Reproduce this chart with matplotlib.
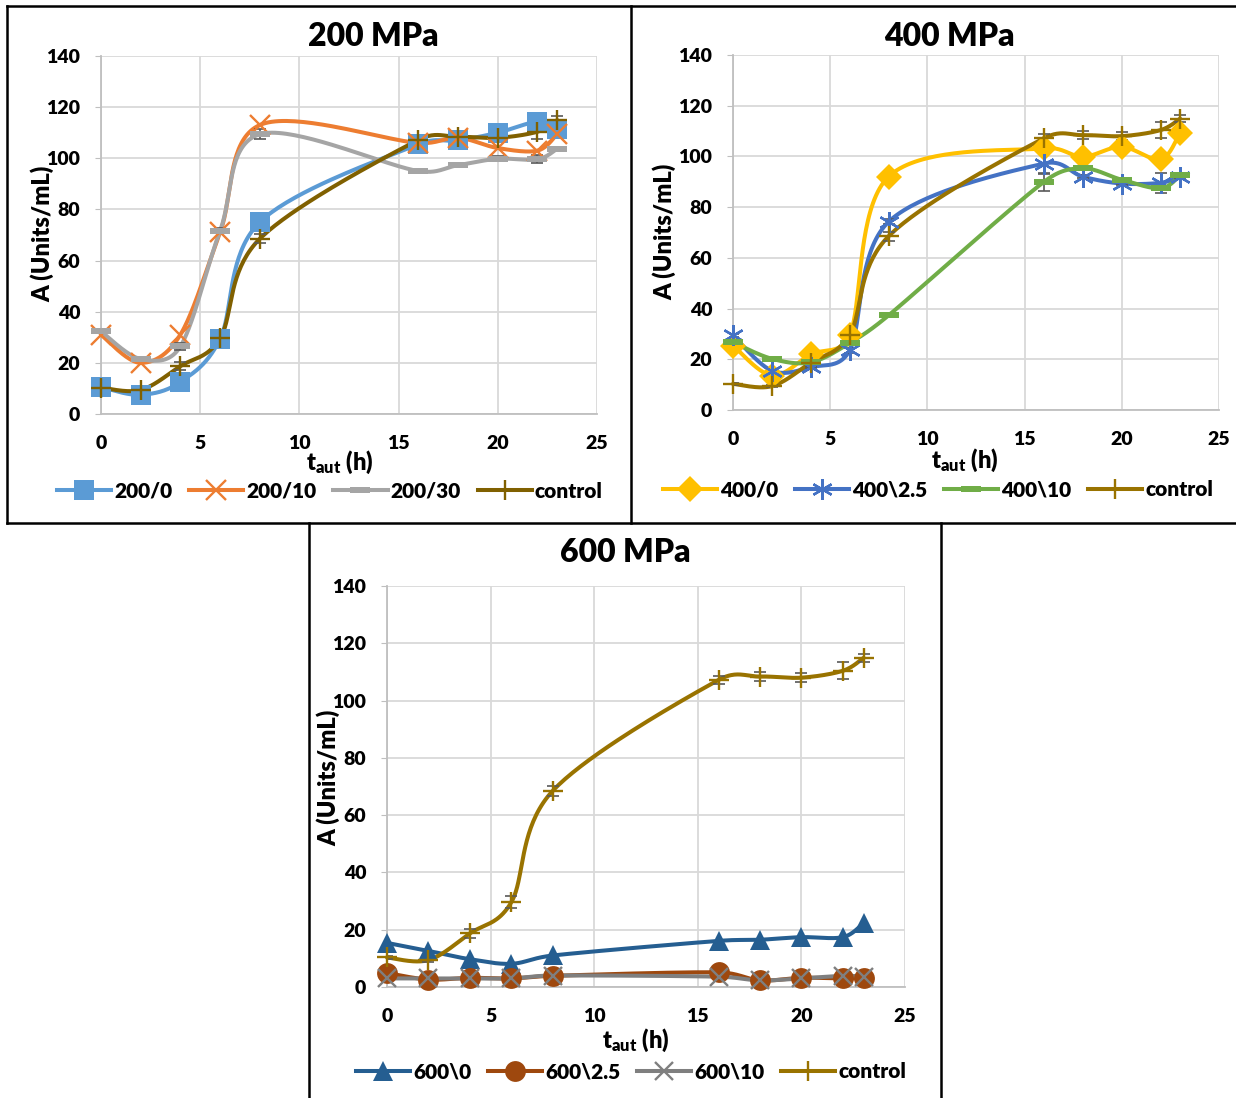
import numpy as np
import matplotlib
matplotlib.use("Agg")
import matplotlib.pyplot as plt
from matplotlib.lines import Line2D
from matplotlib.path import Path

plt.rcParams.update({
    "font.family": "Lato",
    "font.weight": "heavy",
    "mathtext.fontset": "custom",
    "mathtext.rm": "Lato:heavy",
    "mathtext.it": "Lato:heavy",
    "mathtext.bf": "Lato:heavy",
})

# sampling times (h)
hours = [0, 2, 4, 6, 8, 16, 18, 20, 22, 23]

# untreated control, shared by all three panels
control = [10.3, 9.4, 18.7, 29.6, 68.5, 107.2, 108.4, 108.0, 110.4, 114.9]
control_err = [0.5, 0.5, 1.5, 2.0, 1.8, 1.5, 1.5, 1.5, 3.0, 1.5]

# 200 MPa
p200_0 = [10.5, 7.5, 12.5, 29.3, 75.0, 105.5, 107.0, 110.0, 114.3, 111.5]
p200_10 = [31.0, 20.0, 31.0, 71.0, 113.0, 106.0, 108.0, 104.0, 103.0, 109.5]
p200_30 = [32.3, 21.5, 26.4, 71.6, 109.4, 95.0, 97.3, 99.8, 99.6, 103.8]
p200_30_err = [0.5, 0.5, 1.5, 1.0, 2.0, 0.5, 0.5, 1.0, 1.5, 0.5]

# 400 MPa
p400_0 = [25.4, 13.6, 21.9, 29.4, 92.0, 103.2, 99.9, 103.8, 98.8, 109.4]
p400_25 = [29.4, 15.5, 16.9, 23.5, 74.2, 97.2, 92.0, 89.3, 89.6, 92.0]
p400_25_err = [0.5, 0.5, 0.5, 1.0, 1.0, 4.0, 0.5, 0.5, 4.0, 0.5]
p400_10 = [26.7, 20.2, 18.8, 26.4, 37.3, 90.0, 95.3, 90.8, 87.4, 92.6]
p400_10_err = [0.5, 0.5, 0.5, 0.5, 0.5, 3.5, 0.5, 0.5, 0.5, 0.5]

# 600 MPa
p600_0 = [15.4, 12.6, 9.7, 8.1, 11.0, 16.1, 16.5, 17.4, 17.4, 22.3]
p600_25 = [4.9, 2.6, 3.2, 3.0, 3.9, 5.1, 2.3, 3.2, 3.0, 3.0]
p600_10 = [3.0, 3.0, 3.0, 3.0, 4.0, 3.6, 2.3, 3.0, 3.9, 3.6]

W, H = 1236, 1098
ERR_COLOR = "#595959"

# flat bar marker (spreadsheet "dash")
DASH = Path([(-1, -0.3), (1, -0.3), (1, 0.3), (-1, 0.3), (-1, -0.3)],
            [Path.MOVETO, Path.LINETO, Path.LINETO, Path.LINETO, Path.CLOSEPOLY])
ASTERISK = (6, 2, 0)


def fx(px):
    return px / W


def fy(py):
    return 1 - py / H


def smooth(x, y, n=40, scale=(20.0, 2.6)):
    # Catmull-Rom style Bezier segments; the handle length is capped at half
    # the segment (measured on screen) so short segments next to long ones
    # don't loop or overshoot
    pts = np.column_stack([x, y]).astype(float)
    p = np.vstack([pts[0], pts, pts[-1]])
    sc = np.array(scale)
    t = np.linspace(0, 1, n)[:, None]
    out = []
    for i in range(1, len(p) - 2):
        p0, p1, p2, p3 = p[i - 1], p[i], p[i + 1], p[i + 2]
        d12 = np.hypot(*((p2 - p1) * sc))
        d02 = np.hypot(*((p2 - p0) * sc))
        d13 = np.hypot(*((p3 - p1) * sc))
        f1 = 1 / 6 if d02 / 6 <= d12 / 2 or d02 == 0 else d12 / 2 / d02
        f2 = 1 / 6 if d13 / 6 <= d12 / 2 or d13 == 0 else d12 / 2 / d13
        c1 = p1 + (p2 - p0) * f1
        c2 = p2 - (p3 - p1) * f2
        seg = ((1 - t) ** 3) * p1 + 3 * ((1 - t) ** 2) * t * c1 \
            + 3 * (1 - t) * t ** 2 * c2 + t ** 3 * p2
        out.append(seg if i == 1 else seg[1:])
    return np.vstack(out)


def marker_style(marker, color, ms):
    if marker in ("x", "+", ASTERISK):
        return dict(marker=marker, ms=ms, mec=color, mfc=color, mew=1.7)
    return dict(marker=marker, ms=ms, mec=color, mfc=color, mew=0)


def draw_series(ax, y, color, marker, ms, err=None):
    curve = smooth(hours, y)
    ax.plot(curve[:, 0], curve[:, 1], color=color, lw=2.9, zorder=3,
            solid_capstyle="round", clip_on=False)
    if err is not None:
        ax.errorbar(hours, y, yerr=err, fmt="none", ecolor=ERR_COLOR,
                    elinewidth=1.2, capsize=4, capthick=1.2, zorder=4)
    ax.plot(hours, y, ls="none", zorder=5, clip_on=False,
            **marker_style(marker, color, ms))
    return Line2D([], [], color=color, lw=2.9, **marker_style(marker, color, ms))


def setup_axes(rect):
    ax = fig.add_axes(rect)
    ax.set_xlim(0, 25)
    ax.set_ylim(0, 140)
    ax.set_xticks(range(0, 26, 5))
    ax.set_yticks(range(0, 141, 20))
    ax.grid(True, color="#D9D9D9", lw=1.3)
    ax.set_axisbelow(True)
    for side in ("top", "right"):
        ax.spines[side].set_visible(False)
    for side in ("left", "bottom"):
        ax.spines[side].set_color("#BFBFBF")
        ax.spines[side].set_linewidth(1.3)
    ax.tick_params(axis="y", length=4, color="#BFBFBF", pad=11, labelsize=14)
    ax.tick_params(axis="x", length=0, pad=15, labelsize=14)
    return ax


def panel(rect, title, title_xy, ylab_xy, xlab_xy, leg_xy, series):
    ax = setup_axes(rect)
    handles, labels = [], []
    for label, y, color, marker, ms, err in series:
        handles.append(draw_series(ax, y, color, marker, ms, err))
        labels.append(label)
    fig.text(fx(title_xy[0]), fy(title_xy[1]), title, fontsize=23,
             ha="center", va="center")
    fig.text(fx(ylab_xy[0]), fy(ylab_xy[1]), "A (Units/mL)", fontsize=17,
             rotation=90, ha="center", va="center")
    fig.text(fx(xlab_xy[0]), fy(xlab_xy[1]), r"$\mathrm{t}_{\mathrm{aut}}$ (h)",
             fontsize=17, ha="center", va="center")
    fig.legend(handles, labels, loc="center", ncol=4, frameon=False,
               bbox_to_anchor=(fx(leg_xy[0]), fy(leg_xy[1])),
               fontsize=15, handlelength=2.6, handletextpad=0.15,
               columnspacing=0.8, borderaxespad=0)
    return ax


fig = plt.figure(figsize=(W / 100, H / 100), dpi=100)

panel([fx(101), fy(414), fx(597) - fx(101), fy(56) - fy(414)],
      "200 MPa", (373, 37), (42, 234), (340, 462), (330, 491),
      [("200/0", p200_0, "#5B9BD5", "s", 15, None),
       ("200/10", p200_10, "#ED7D31", "x", 14, None),
       ("200/30", p200_30, "#A5A5A5", DASH, 14, p200_30_err),
       ("control", control, "#806000", "+", 15, control_err)])

panel([fx(733), fy(410), fx(1219) - fx(733), fy(55) - fy(410)],
      "400 MPa", (949, 37), (664, 232), (965, 460), (938, 490),
      [("400/0", p400_0, "#FFC000", "D", 13, None),
       ("400\\2.5", p400_25, "#4472C4", ASTERISK, 15, p400_25_err),
       ("400\\10", p400_10, "#70AD47", DASH, 14, p400_10_err),
       ("control", control, "#997300", "+", 15, control_err)])

panel([fx(387), fy(987), fx(905) - fx(387), fy(586) - fy(987)],
      "600 MPa", (625, 552), (328, 778), (636, 1040), (631, 1072),
      [("600\\0", p600_0, "#255E91", "^", 14, None),
       ("600\\2.5", p600_25, "#9E480E", "o", 15, None),
       ("600\\10", p600_10, "#7F7F7F", "x", 13, None),
       ("control", control, "#997300", "+", 15, control_err)])

# table-style frame around the three panels
frame = [((7, 6), (1236, 6)), ((7, 6), (7, 523)), ((631, 6), (631, 523)),
         ((7, 523), (1236, 523)), ((309, 523), (309, 1098)),
         ((941, 523), (941, 1098))]
for (x0, y0), (x1, y1) in frame:
    fig.add_artist(Line2D([fx(x0), fx(x1)], [fy(y0), fy(y1)], color="black",
                          lw=1.8, transform=fig.transFigure))

fig.savefig("out.png", dpi=100)
